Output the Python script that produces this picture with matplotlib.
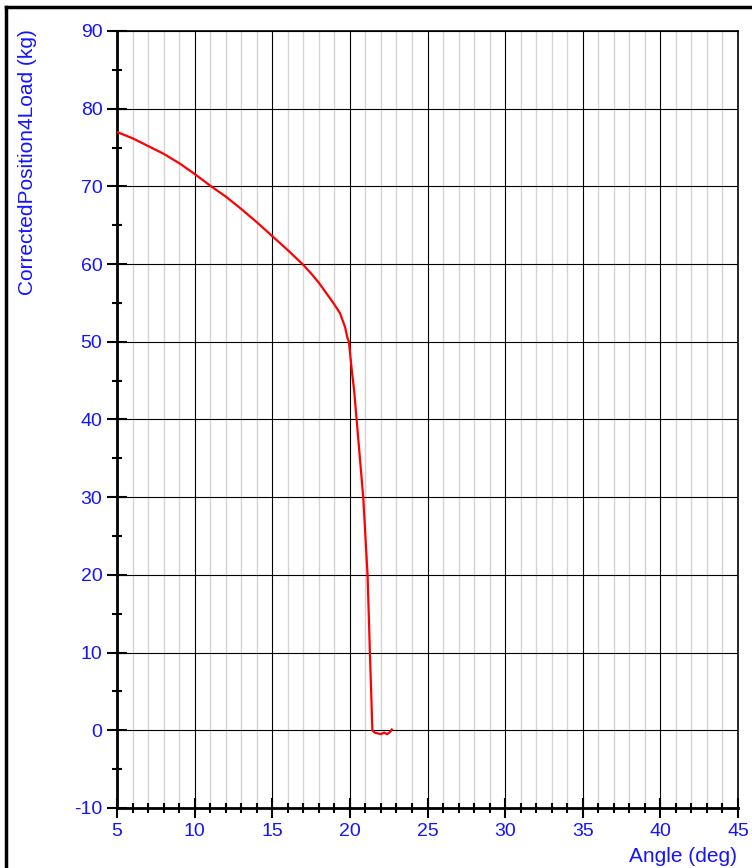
import matplotlib
matplotlib.use("Agg")
import matplotlib.pyplot as plt
from matplotlib.ticker import MultipleLocator
from matplotlib.lines import Line2D

plt.rcParams['font.family'] = ['Liberation Sans', 'DejaVu Sans']
plt.rcParams['axes.unicode_minus'] = False

# Load curve
angle = [5.0, 6.0, 7.0, 8.0, 9.0, 10.0, 11.0, 12.0, 13.0, 14.0, 15.0, 16.0,
         17.0, 17.5, 18.0, 18.72, 19.0, 19.36, 19.69, 19.83, 19.94, 20.12,
         20.27, 20.43, 20.86, 21.14, 21.29, 21.45, 21.6, 21.8, 22.0, 22.2,
         22.4, 22.6, 22.7]
load = [77.0, 76.2, 75.2, 74.2, 73.0, 71.6, 70.1, 68.7, 67.1, 65.4, 63.6, 61.8,
        59.9, 58.8, 57.6, 55.6, 54.8, 53.7, 51.9, 50.6, 50.0, 46.4,
        43.8, 40.1, 30.0, 20.0, 10.0, 0.0, -0.3, -0.4, -0.5, -0.3,
        -0.5, -0.2, 0.1]

blue = '#1414ff'

fig = plt.figure(figsize=(7.52, 8.68), dpi=100)
ax = fig.add_axes([117 / 752, 1 - 808 / 868, (738 - 117) / 752, (808 - 31) / 868])

# Grid
ax.set_xlim(5, 45)
ax.set_ylim(-10, 90)
ax.xaxis.set_major_locator(MultipleLocator(5))
ax.xaxis.set_minor_locator(MultipleLocator(1))
ax.yaxis.set_major_locator(MultipleLocator(10))
ax.yaxis.set_minor_locator(MultipleLocator(5))
ax.grid(which='minor', axis='x', color='#d4d4d4', linewidth=1.0)
ax.grid(which='major', axis='both', color='black', linewidth=0.8)
ax.set_axisbelow(True)

ax.plot(angle, load, color='red', linewidth=1.6, zorder=3)

# Spines and ticks
ax.spines['left'].set_linewidth(2.0)
ax.spines['bottom'].set_linewidth(2.0)
ax.spines['right'].set_linewidth(1.2)
ax.spines['top'].set_linewidth(1.2)
ax.tick_params(which='major', direction='inout', length=15, width=1.5,
               labelsize=14, labelcolor=blue, pad=3)
ax.tick_params(which='minor', direction='inout', length=7.5, width=1.5)

fig.text(33 / 752, 1 - 29 / 868, 'CorrectedPosition4Load (kg)', color=blue,
         fontsize=15, rotation=90, rotation_mode='anchor',
         ha='right', va='baseline')
fig.text(737 / 752, 1 - 862 / 868, 'Angle (deg)', color=blue, fontsize=15,
         ha='right', va='baseline')

# Frame around the figure (left and top edges)
fig.add_artist(Line2D([6 / 752, 6 / 752], [0, 1 - 7 / 868], color='black',
                      linewidth=2.5, transform=fig.transFigure))
fig.add_artist(Line2D([6 / 752, 1], [1 - 7 / 868, 1 - 7 / 868], color='black',
                      linewidth=2.5, transform=fig.transFigure))

fig.savefig('out.png', dpi=100)
